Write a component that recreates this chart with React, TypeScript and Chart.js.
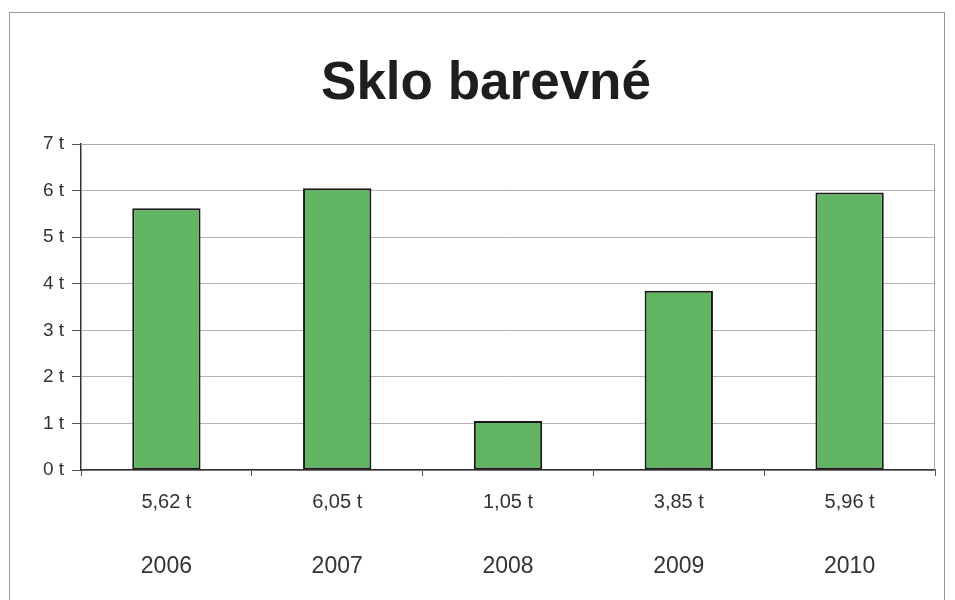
import React, { useEffect, useRef } from "react";
import { Chart, registerables } from "chart.js";

Chart.register(...registerables);

const titleText = "Sklo barevné";
const years = ["2006", "2007", "2008", "2009", "2010"];
const values = [5.62, 6.05, 1.05, 3.85, 5.96];
const valueLabels = ["5,62 t", "6,05 t", "1,05 t", "3,85 t", "5,96 t"];
const yMax = 7;
const yUnit = " t";

const FONT = "'Liberation Sans', Arial, sans-serif";

const framePlugin = {
  id: "frame",
  beforeDatasetsDraw(chart: any) {
    const { ctx, chartArea } = chart;
    ctx.save();
    ctx.strokeStyle = "#a8a8a8";
    ctx.lineWidth = 1;
    ctx.beginPath();
    ctx.moveTo(chartArea.left, chartArea.top + 0.5);
    ctx.lineTo(chartArea.right - 0.5, chartArea.top + 0.5);
    ctx.lineTo(chartArea.right - 0.5, chartArea.bottom);
    ctx.stroke();
    ctx.restore();
  },
};

export default function App() {
  const ref = useRef<HTMLCanvasElement>(null);
  useEffect(() => {
    const chart = new Chart(ref.current!, {
      type: "bar",
      data: {
        labels: years,
        datasets: [
          {
            data: values,
            xAxisID: "x",
            backgroundColor: "#62b562",
            borderColor: "#1a1a1a",
            borderWidth: 2,
            borderSkipped: false,
            categoryPercentage: 1,
            barPercentage: 0.4,
          },
        ],
      },
      options: {
        animation: false,
        responsive: false,
        layout: { padding: { left: 37, right: 20, top: 0, bottom: 0 } },
        plugins: {
          legend: { display: false },
          tooltip: { enabled: false },
          title: {
            display: true,
            text: titleText,
            color: "#1e1e1e",
            font: { family: FONT, size: 53, weight: "bold", lineHeight: 1.2 },
            padding: { top: 53, bottom: 27.4 },
          },
        },
        scales: {
          x: {
            type: "category",
            position: "bottom",
            weight: 0,
            labels: valueLabels,
            offset: true,
            grid: {
              display: true,
              offset: true,
              drawOnChartArea: false,
              drawTicks: true,
              tickLength: 6,
              color: "#555",
            },
            border: { display: true, color: "#333", width: 1.5 },
            ticks: {
              color: "#333",
              padding: 14,
              maxRotation: 0,
              autoSkip: false,
              font: { family: FONT, size: 20, lineHeight: 1.2 },
            },
            afterFit(s: any) {
              s.height = 44;
            },
          },
          x2: {
            type: "category",
            position: "bottom",
            weight: 1,
            labels: years,
            offset: true,
            grid: { display: false, drawTicks: false },
            border: { display: false },
            ticks: {
              color: "#333",
              padding: 39,
              maxRotation: 0,
              autoSkip: false,
              font: { family: FONT, size: 23, lineHeight: 1.2 },
            },
            afterFit(s: any) {
              s.height = 86;
            },
          },
          y: {
            min: 0,
            max: yMax,
            grid: {
              color: "#b4b4b4",
              tickLength: 9,
              tickColor: "#555",
            },
            border: { display: true, color: "#333", width: 1.5 },
            ticks: {
              stepSize: 1,
              color: "#333",
              padding: 8,
              font: { family: FONT, size: 19 },
              callback: (v: any) => v + yUnit,
            },
            afterFit(s: any) {
              s.width = 44;
            },
          },
        },
      },
      plugins: [framePlugin],
    });
    return () => chart.destroy();
  }, []);
  return (
    <div style={{ position: "absolute", left: 0, top: 0, width: 955, height: 600, background: "#fff" }}>
      <div
        style={{
          position: "absolute",
          left: 9,
          top: 12,
          width: 936,
          height: 600,
          borderLeft: "1px solid #9a9a9a",
          borderTop: "1px solid #9a9a9a",
          borderRight: "1px solid #9a9a9a",
          boxSizing: "border-box",
        }}
      />
      <canvas ref={ref} width={955} height={600} style={{ position: "absolute", left: 0, top: 0 }} />
    </div>
  );
}
